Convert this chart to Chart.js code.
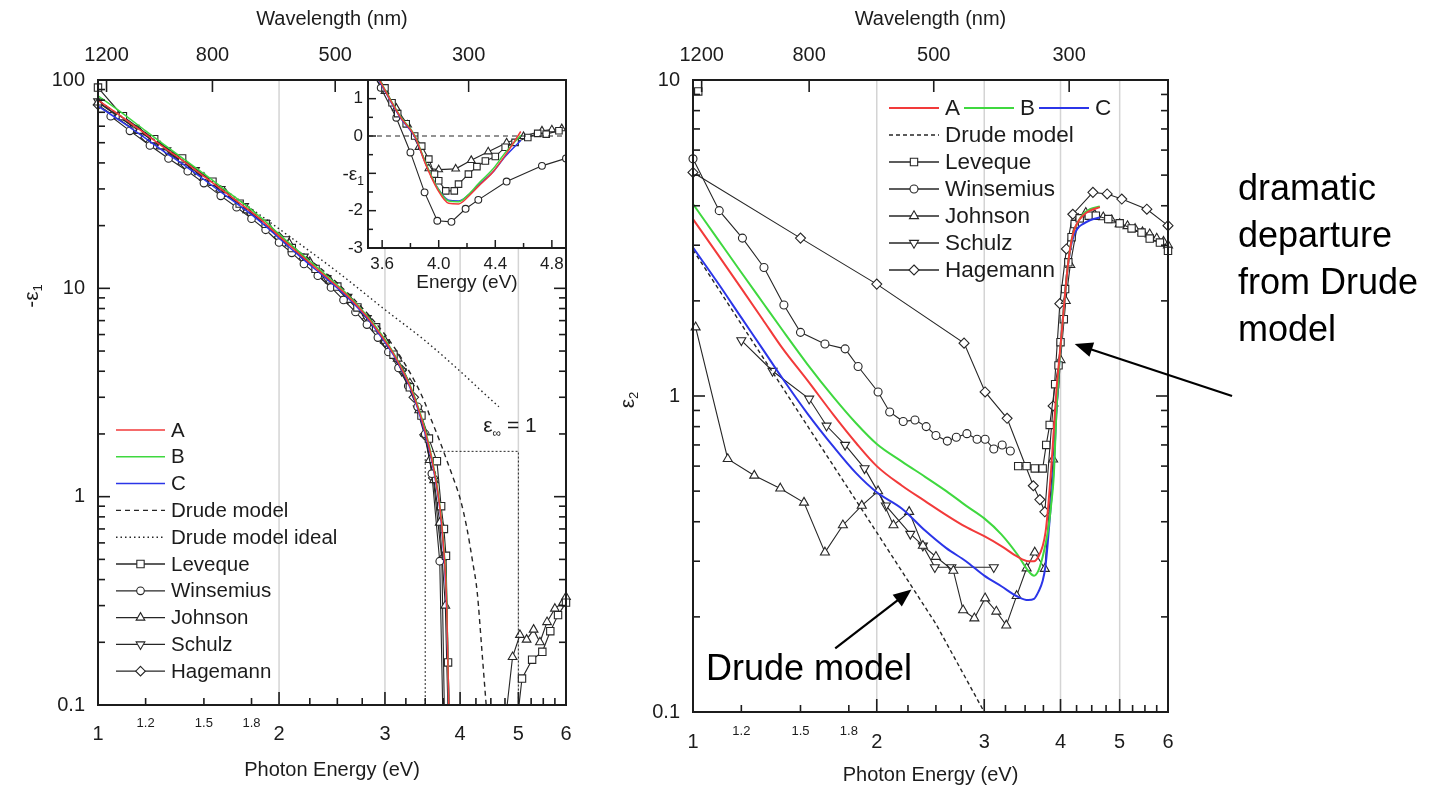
<!DOCTYPE html>
<html>
<head>
<meta charset="utf-8">
<title>Dielectric function of aluminium</title>
<script src="https://cdn.jsdelivr.net/npm/chart.js@4.4.1/dist/chart.umd.min.js"></script>
<style>
  html, body { margin: 0; padding: 0; background: #fff; }
  #page { position: relative; width: 1443px; height: 787px; overflow: hidden; background: #fff; }
  #page canvas { position: absolute; top: 0; }
</style>
</head>
<body>
<div id="page">
  <canvas id="eps1" width="600" height="787" style="left:0"></canvas>
  <canvas id="eps1-inset" width="600" height="787" style="left:0"></canvas>
  <canvas id="eps2" width="843" height="787" style="left:600px"></canvas>
</div>
<script>
(function () {
  'use strict';

  var FONT = '"Liberation Sans", Arial, Helvetica, sans-serif';
  var INK = '#1c1c1c', LINE = '#262626', GRID = '#d4d4d4';
  var RED = '#f23a3a', GREEN = '#3fd83f', BLUE = '#2b35e8';
  var HC = 1239.84; // eV*nm, converts wavelength to photon energy

  // ---- axis ticks ----
  var energyMajor = [1, 2, 3, 4, 5, 6];
  var energyMinor = [1.2, 1.5, 1.8, 2.25, 2.5, 2.75, 3.25, 3.5, 3.75, 4.25, 4.5, 4.75, 5.25, 5.5, 5.75];
  var energyMinorLabels = [1.2, 1.5, 1.8];
  var energyGrid = [2, 3, 4, 5];
  var wavelengthTicks = [1200, 800, 500, 300];
  var eps1Decades = [0.1, 1, 10, 100];
  var eps2Decades = [0.1, 1, 10];
  var insetEnergyTicks = [3.6, 4.0, 4.4, 4.8];
  var insetEnergyMinor = [3.8, 4.2, 4.6];
  var insetEpsTicks = [1, 0, -1, -2, -3];
  var insetEpsLabels = [1, 0, -2, -3]; // the -1 slot carries the axis title
  var insetEpsMinor = [0.5, -0.5, -1.5, -2.5];

  // ---- -eps1, main panel ----
  var fitE1 = [1.0, 1.1, 1.2, 1.3, 1.4, 1.5, 1.6, 1.7, 1.8, 1.9, 2.0, 2.2, 2.4, 2.6, 2.8, 3.0, 3.1, 3.2, 3.3, 3.4, 3.5, 3.6, 3.7, 3.75, 3.8, 3.83];
  var fitA1 = [80, 66, 55, 46.5, 40, 34.5, 30, 26.3, 23.2, 20.4, 17.8, 14.0, 11.3, 9.2, 7.3, 5.6, 4.85, 4.1, 3.4, 2.7, 2.05, 1.45, 0.9, 0.6, 0.3, 0.1];
  var fitB1 = [84, 69, 57, 48, 41, 35.5, 30.8, 27, 23.8, 20.9, 18.2, 14.3, 11.5, 9.35, 7.4, 5.7, 4.9, 4.15, 3.45, 2.75, 2.1, 1.48, 0.92, 0.62, 0.32, 0.1];
  var fitC1 = [75, 62.5, 52.5, 44.5, 38.5, 33.3, 29, 25.6, 22.6, 19.9, 17.4, 13.7, 11.1, 9.05, 7.2, 5.5, 4.78, 4.05, 3.35, 2.65, 2.0, 1.42, 0.88, 0.58, 0.28, 0.1];
  var drudeE1 = [1.0, 1.5, 2.0, 2.5, 3.0, 3.3, 3.5, 3.56, 3.7, 3.8, 3.9, 4.0, 4.1, 4.2, 4.27, 4.35, 4.42];
  var drude1 = [80, 34.5, 17.8, 10.6, 6.0, 3.95, 2.8, 2.45, 1.85, 1.5, 1.22, 0.98, 0.72, 0.48, 0.35, 0.18, 0.1];
  var idealE1 = [1.0, 1.25, 1.5, 1.75, 2.0, 2.5, 3.0, 3.5, 4.0, 4.3, 4.64];
  var ideal1 = [80, 51, 35, 25.5, 19.3, 12, 7.9, 5.6, 4.0, 3.3, 2.7];
  var boxE1 = [3.5, 3.5, 5.0, 5.0];
  var box1 = [0.1, 1.65, 1.65, 0.1];
  var levequeE1 = [1.0, 1.1, 1.24, 1.38, 1.55, 1.72, 1.9, 2.1, 2.3, 2.5, 2.7, 2.9, 3.1, 3.3, 3.45, 3.55, 3.66, 3.72, 3.76, 3.79, 3.82, 3.86, null, 4.98, 5.07, 5.27, 5.48, 5.65, 5.82, 6.0];
  var leveque1 = [92, 67, 52, 42, 32.5, 25.5, 20.4, 15.6, 12.4, 10.2, 8.1, 6.5, 4.8, 3.35, 2.45, 1.9, 1.48, 0.9, 0.7, 0.52, 0.16, 0.05, null, 0.085, 0.134, 0.165, 0.18, 0.226, 0.27, 0.31];
  var winsemiusE1 = [1.05, 1.13, 1.22, 1.31, 1.41, 1.5, 1.6, 1.7, 1.8, 1.9, 2.0, 2.1, 2.2, 2.32, 2.44, 2.56, 2.68, 2.8, 2.92, 3.04, 3.16, 3.28, 3.4, 3.5, 3.59, 3.7, 3.76];
  var winsemius1 = [67, 57, 48.5, 42, 36.5, 32, 27.8, 24.5, 21.6, 19.1, 16.6, 14.8, 13.1, 11.5, 10.1, 8.8, 7.7, 6.7, 5.8, 4.95, 4.15, 3.4, 2.7, 2.0, 1.29, 0.49, 0.05];
  var johnsonE1 = [1.0, 1.08, 1.17, 1.27, 1.38, 1.5, 1.63, 1.77, 1.92, 2.08, 2.25, 2.43, 2.62, 2.82, 3.0, 3.15, 3.3, 3.42, 3.5, 3.56, 3.62, 3.7, 3.78, 3.84, null, 4.77, 4.89, 5.03, 5.16, 5.3, 5.43, 5.58, 5.75, 5.93, 6.0];
  var johnson1 = [78, 67, 57, 48, 40.5, 34, 28.4, 23.7, 19.8, 16.4, 13.4, 10.9, 8.8, 7.0, 5.6, 4.6, 3.5, 2.6, 2.0, 1.5, 1.2, 0.75, 0.3, 0.05, null, 0.09, 0.17, 0.217, 0.206, 0.23, 0.2, 0.25, 0.29, 0.31, 0.33];
  var schulzE1 = [1.0, 1.15, 1.3, 1.45, 1.6, 1.75, 1.9, 2.05, 2.2, 2.4, 2.6, 2.8, 3.0, 3.2, 3.4];
  var schulz1 = [79, 59, 46, 37, 30, 24.8, 20.6, 17.2, 14.2, 11.2, 9.1, 7.2, 5.5, 4.0, 2.65];
  var hagemannE1 = [1.0, 1.2, 1.4, 1.6, 1.8, 2.0, 2.2, 2.4, 2.6, 2.8, 3.0, 3.2, 3.35, 3.49, 3.61, 3.73, 3.78];
  var hagemann1 = [76, 53, 39, 29.5, 22.8, 17.6, 13.9, 11.1, 8.9, 7.1, 5.5, 4.05, 3.0, 1.98, 1.23, 0.5, 0.05];

  // ---- -eps1, zoom around the zero crossing (linear) ----
  var insetFitE = [3.5, 3.58, 3.66, 3.73, 3.83, 3.91, 3.99, 4.07, 4.14, 4.21, 4.28, 4.38, 4.47, 4.58];
  var insetA = [2.0, 1.5, 0.95, 0.5, 0.0, -0.78, -1.42, -1.8, -1.82, -1.62, -1.35, -0.98, -0.52, 0.12];
  var insetB = [2.05, 1.52, 0.97, 0.52, 0.02, -0.74, -1.38, -1.74, -1.76, -1.57, -1.28, -0.9, -0.45, 0.02];
  var insetC = [1.95, 1.47, 0.93, 0.48, -0.02, -0.76, -1.38, -1.72, -1.74, -1.58, -1.32, -0.98, -0.55, -0.12];
  var insetZeroE = [3.5, 4.9];
  var insetZero = [0, 0];
  var insetLevequeE = [3.55, 3.62, 3.67, 3.71, 3.77, 3.83, 3.88, 3.93, 3.97, 4.0, 4.05, 4.11, 4.14, 4.21, 4.27, 4.33, 4.4, 4.47, 4.54, 4.63, 4.7, 4.76, 4.85];
  var insetLeveque = [1.7, 1.29, 0.89, 0.6, 0.33, 0.0, -0.27, -0.62, -1.02, -1.2, -1.47, -1.47, -1.29, -1.02, -0.82, -0.67, -0.55, -0.3, -0.17, -0.04, 0.07, 0.05, 0.14];
  var insetWinsemiusE = [3.53, 3.59, 3.7, 3.8, 3.9, 3.99, 4.09, 4.19, 4.28, 4.48, 4.73, 4.9];
  var insetWinsemius = [1.75, 1.29, 0.49, -0.44, -1.51, -2.27, -2.3, -1.95, -1.71, -1.22, -0.8, -0.6];
  var insetJohnsonE = [3.55, 3.62, 3.7, 3.78, 3.86, 3.93, 4.0, 4.12, 4.23, 4.35, 4.48, 4.6, 4.73, 4.8, 4.87];
  var insetJohnson = [1.55, 1.2, 0.75, 0.3, -0.3, -0.87, -0.9, -0.88, -0.65, -0.42, -0.18, -0.01, 0.14, 0.17, 0.2];

  // ---- eps2 ----
  var fitE2 = [1.0, 1.1, 1.2, 1.3, 1.4, 1.54, 1.7, 1.85, 2.0, 2.2, 2.4, 2.6, 2.8, 3.0, 3.2, 3.4, 3.54, 3.62, 3.68, 3.74, 3.78, 3.82, 3.86, 3.9, 3.94, 3.98, 4.02, 4.06, 4.1, 4.15, 4.2, 4.27, 4.35, 4.47, 4.64];
  var fitA2 = [3.63, 2.79, 2.19, 1.75, 1.42, 1.12, 0.87, 0.71, 0.60, 0.52, 0.465, 0.42, 0.385, 0.36, 0.335, 0.31, 0.30, 0.30, 0.31, 0.335, 0.37, 0.45, 0.58, 0.78, 1.05, 1.3, 1.6, 2.0, 2.45, 2.95, 3.3, 3.55, 3.72, 3.86, 3.96];
  var fitB2 = [4.05, 3.12, 2.46, 1.98, 1.62, 1.26, 0.99, 0.82, 0.705, 0.62, 0.555, 0.50, 0.45, 0.41, 0.365, 0.315, 0.28, 0.27, 0.28, 0.31, 0.34, 0.38, 0.45, 0.56, 0.9, 1.25, 1.6, 2.0, 2.45, 2.95, 3.3, 3.55, 3.75, 3.9, 3.98];
  var fitC2 = [2.95, 2.27, 1.77, 1.41, 1.14, 0.88, 0.69, 0.57, 0.496, 0.44, 0.375, 0.33, 0.30, 0.27, 0.25, 0.232, 0.226, 0.228, 0.24, 0.26, 0.29, 0.36, 0.46, 0.6, 0.9, 1.25, 1.6, 2.0, 2.45, 2.9, 3.2, 3.4, 3.5, 3.6, 3.67];
  var drudeE2 = [1.0, 1.5, 2.0, 2.5, 3.0];
  var drude2 = [2.9, 0.87, 0.37, 0.19, 0.1];
  var levequeE2 = [1.02, null, 3.41, 3.52, 3.63, 3.74, 3.79, 3.84, 3.92, 3.97, 4.0, 4.05, 4.07, 4.12, 4.17, 4.22, 4.3, 4.45, 4.57, 4.79, 5.0, 5.23, 5.43, 5.6, 5.82, 6.0];
  var leveque2 = [9.2, null, 0.6, 0.6, 0.59, 0.59, 0.70, 0.81, 1.09, 1.25, 1.48, 1.75, 2.18, 2.65, 3.18, 3.5, 3.65, 3.72, 3.72, 3.63, 3.52, 3.39, 3.29, 3.15, 3.06, 2.88];
  var winsemiusE2 = [1.0, 1.104, 1.205, 1.307, 1.409, 1.5, 1.645, 1.775, 1.864, 2.01, 2.1, 2.21, 2.31, 2.41, 2.5, 2.61, 2.7, 2.81, 2.92, 3.01, 3.11, 3.21, 3.31];
  var winsemius2 = [5.63, 3.86, 3.16, 2.55, 1.94, 1.59, 1.46, 1.41, 1.24, 1.03, 0.89, 0.83, 0.84, 0.80, 0.75, 0.72, 0.74, 0.76, 0.73, 0.73, 0.68, 0.70, 0.67];
  var johnsonE2 = [1.01, 1.14, 1.26, 1.39, 1.52, 1.645, 1.76, 1.89, 2.01, 2.13, 2.26, 2.38, 2.5, 2.67, 2.77, 2.89, 3.01, 3.14, 3.26, 3.39, 3.52, 3.63, 3.77, 3.89, 4.0, 4.08, 4.15, 4.28, 4.4, 4.55, 4.7, 4.85, 5.0, 5.15, 5.3, 5.45, 5.6, 5.75, 5.9, 6.0];
  var johnson2 = [1.65, 0.632, 0.56, 0.51, 0.46, 0.32, 0.39, 0.45, 0.50, 0.39, 0.43, 0.336, 0.31, 0.28, 0.21, 0.198, 0.229, 0.208, 0.188, 0.233, 0.285, 0.32, 0.284, 0.63, 1.3, 2.0, 2.6, 3.63, 3.8, 3.75, 3.68, 3.6, 3.5, 3.45, 3.38, 3.3, 3.25, 3.15, 3.08, 3.0];
  var schulzE2 = [1.2, 1.35, 1.55, 1.655, 1.775, 1.91, 2.07, 2.27, 2.38, 2.49, 2.65, 3.11];
  var schulz2 = [1.5, 1.2, 0.98, 0.805, 0.70, 0.59, 0.45, 0.366, 0.336, 0.287, 0.287, 0.287];
  var hagemannE2 = [1.0, 1.5, 2.0, 2.78, 3.01, 3.27, 3.61, 3.7, 3.77, 3.89, 3.99, 4.09, 4.19, 4.52, 4.77, 5.04, 5.54, 6.0];
  var hagemann2 = [5.1, 3.16, 2.26, 1.47, 1.03, 0.85, 0.52, 0.47, 0.43, 0.93, 1.96, 2.92, 3.76, 4.41, 4.36, 4.2, 3.9, 3.46];

  // ---- annotations (data coordinates of the arrows) ----
  var departureArrow = { from: [7.64, 1.0], to: [4.22, 1.46] };
  var drudeArrow = { from: [1.71, 0.159], to: [2.28, 0.244] };
  var departureText = ['dramatic', 'departure', 'from Drude', 'model'];

  var MAIN_CLIP = { left: 6, right: 6, top: 0, bottom: 0 };
  var INSET_CLIP = { left: 0, right: 0, top: 0, bottom: 0 };

  function pts(xs, ys) {
    return xs.map(function (x, i) { return { x: x, y: ys[i] }; });
  }
  function fit(label, xs, ys, color, width, clip) {
    return { label: label, data: pts(xs, ys), showLine: true, borderColor: color, borderWidth: width,
      cubicInterpolationMode: 'monotone', pointRadius: 0, clip: clip };
  }
  function guide(label, xs, ys, dash, width, clip, smooth) {
    return { label: label, data: pts(xs, ys), showLine: true, borderColor: LINE, borderWidth: width,
      borderDash: dash, cubicInterpolationMode: smooth ? 'monotone' : 'default', pointRadius: 0, clip: clip };
  }
  function measured(label, xs, ys, style, r, rot, clip) {
    return { label: label, data: pts(xs, ys), showLine: true, borderColor: LINE, borderWidth: 1.1,
      pointStyle: style, pointRadius: r, pointRotation: rot || 0, pointBackgroundColor: '#fff',
      pointBorderColor: LINE, pointBorderWidth: 1.1, clip: clip };
  }

  function seg(ctx, x0, y0, x1, y1) {
    ctx.beginPath(); ctx.moveTo(x0, y0); ctx.lineTo(x1, y1); ctx.stroke();
  }
  function label(ctx, str, x, y, size, align, baseline, color) {
    ctx.font = size + 'px ' + FONT;
    ctx.fillStyle = color || INK;
    ctx.textAlign = align || 'center';
    ctx.textBaseline = baseline || 'middle';
    ctx.fillText(str, x, y);
  }
  // text with a lowered subscript; x is the anchor for the whole string
  function subLabel(ctx, main, sub, x, y, size, subSize, align, tail) {
    ctx.font = size + 'px ' + FONT;
    var w1 = ctx.measureText(main).width, w3 = tail ? ctx.measureText(tail).width : 0;
    ctx.font = subSize + 'px ' + FONT;
    var w2 = ctx.measureText(sub).width;
    var total = w1 + w2 + w3, x0 = x;
    if (align === 'center') x0 = x - total / 2;
    else if (align === 'right') x0 = x - total;
    label(ctx, main, x0, y, size, 'left');
    label(ctx, sub, x0 + w1, y + size * 0.32, subSize, 'left');
    if (tail) label(ctx, tail, x0 + w1 + w2, y, size, 'left');
  }

  function marker(ctx, style, x, y, r, rot) {
    ctx.save();
    ctx.translate(x, y);
    ctx.rotate((rot || 0) * Math.PI / 180);
    ctx.beginPath();
    if (style === 'circle') {
      ctx.arc(0, 0, r, 0, Math.PI * 2);
    } else if (style === 'rect') {
      var s = r * Math.SQRT1_2;
      ctx.rect(-s, -s, 2 * s, 2 * s);
    } else if (style === 'rectRot') {
      ctx.moveTo(0, -r); ctx.lineTo(r, 0); ctx.lineTo(0, r); ctx.lineTo(-r, 0); ctx.closePath();
    } else if (style === 'triangle') {
      for (var k = 0; k < 3; k++) {
        var a = k * 2 * Math.PI / 3;
        if (k) ctx.lineTo(Math.sin(a) * r, -Math.cos(a) * r); else ctx.moveTo(Math.sin(a) * r, -Math.cos(a) * r);
      }
      ctx.closePath();
    }
    ctx.fillStyle = '#fff'; ctx.fill();
    ctx.lineWidth = 1.1; ctx.strokeStyle = LINE; ctx.stroke();
    ctx.restore();
  }

  function legendSample(ctx, ds, x0, x1, y) {
    ctx.save();
    ctx.strokeStyle = ds.borderColor;
    ctx.lineWidth = Math.max(ds.borderWidth, 1.3);
    ctx.setLineDash(ds.borderDash || []);
    seg(ctx, x0, y, x1, y);
    ctx.setLineDash([]);
    if (ds.pointRadius) marker(ctx, ds.pointStyle, (x0 + x1) / 2, y, ds.pointRadius, ds.pointRotation);
    ctx.restore();
  }

  function drawLegend(chart, cfg) {
    var ctx = chart.ctx, byLabel = {};
    chart.data.datasets.forEach(function (ds) { byLabel[ds.label] = ds; });
    cfg.rows.forEach(function (row, i) {
      var y = cfg.y + i * cfg.dy;
      row.forEach(function (name, j) {
        var x = cfg.x + j * cfg.colStep;
        legendSample(ctx, byLabel[name], x, x + cfg.sample, y);
        label(ctx, name, x + cfg.sample + 6, y + 1, cfg.size, 'left');
      });
    });
  }

  function arrow(ctx, from, to) {
    var ang = Math.atan2(to[1] - from[1], to[0] - from[0]);
    var L = 18, W = 7.5, c = Math.cos(ang), s = Math.sin(ang);
    ctx.save();
    ctx.strokeStyle = '#000'; ctx.fillStyle = '#000'; ctx.lineWidth = 2.2;
    seg(ctx, from[0], from[1], to[0] - c * L * 0.8, to[1] - s * L * 0.8);
    ctx.beginPath();
    ctx.moveTo(to[0], to[1]);
    ctx.lineTo(to[0] - c * L - s * W, to[1] - s * L + c * W);
    ctx.lineTo(to[0] - c * L + s * W, to[1] - s * L - c * W);
    ctx.closePath(); ctx.fill();
    ctx.restore();
  }

  function logMinors(decades) {
    var out = [];
    for (var i = 0; i < decades.length - 1; i++) {
      for (var k = 2; k <= 9; k++) out.push(decades[i] * k);
    }
    return out;
  }

  // frame, ticks, labels and titles shared by both energy panels
  function energyAxes(opts) {
    return {
      id: 'energyAxes',
      beforeDatasetsDraw: function (chart) {
        var ctx = chart.ctx, a = chart.chartArea, x = chart.scales.x;
        ctx.save();
        ctx.strokeStyle = GRID; ctx.lineWidth = 1.5;
        energyGrid.forEach(function (v) {
          var px = x.getPixelForValue(v);
          seg(ctx, px, a.top, px, a.bottom);
        });
        ctx.restore();
      },
      afterDatasetsDraw: function (chart) {
        var ctx = chart.ctx, a = chart.chartArea, x = chart.scales.x, y = chart.scales.y;
        ctx.save();
        ctx.strokeStyle = INK; ctx.lineWidth = 1.6;
        energyMajor.forEach(function (v) { var p = x.getPixelForValue(v); seg(ctx, p, a.bottom, p, a.bottom - 13); });
        energyMinor.forEach(function (v) { var p = x.getPixelForValue(v); seg(ctx, p, a.bottom, p, a.bottom - 7); });
        wavelengthTicks.forEach(function (nm) { var p = x.getPixelForValue(HC / nm); seg(ctx, p, a.top, p, a.top + 12); });
        opts.decades.forEach(function (v) {
          var p = y.getPixelForValue(v);
          seg(ctx, a.left, p, a.left + 12, p); seg(ctx, a.right, p, a.right - 12, p);
        });
        logMinors(opts.decades).forEach(function (v) {
          var p = y.getPixelForValue(v);
          seg(ctx, a.left, p, a.left + 7, p); seg(ctx, a.right, p, a.right - 7, p);
        });
        ctx.lineWidth = 2;
        ctx.strokeRect(a.left, a.top, a.right - a.left, a.bottom - a.top);

        energyMajor.forEach(function (v) { label(ctx, String(v), x.getPixelForValue(v), a.bottom + opts.tickGap, 20); });
        energyMinorLabels.forEach(function (v) { label(ctx, v.toFixed(1), x.getPixelForValue(v), a.bottom + opts.tickGap - 11, 13); });
        wavelengthTicks.forEach(function (nm) { label(ctx, String(nm), x.getPixelForValue(HC / nm), a.top - 25, 20); });
        opts.decades.forEach(function (v) { label(ctx, String(v), a.left - 13, y.getPixelForValue(v), 20, 'right'); });

        var cx = (a.left + a.right) / 2;
        label(ctx, 'Wavelength (nm)', cx, a.top - 61, 20);
        label(ctx, 'Photon Energy (eV)', cx, a.bottom + opts.titleGap, 20);

        ctx.save();
        ctx.translate(opts.yTitleX, opts.yTitleY);
        ctx.rotate(-Math.PI / 2);
        subLabel(ctx, opts.yTitle[0], opts.yTitle[1], 0, 0, 21, 13, 'center');
        ctx.restore();

        drawLegend(chart, opts.legend);
        if (opts.extra) opts.extra(chart);
        ctx.restore();
      }
    };
  }

  function chartOptions(xType, xr, yType, yr, padding) {
    return {
      responsive: false, animation: false, events: [],
      layout: { padding: padding },
      plugins: { legend: { display: false }, tooltip: { enabled: false } },
      scales: {
        x: { type: xType, min: xr[0], max: xr[1], display: false },
        y: { type: yType, min: yr[0], max: yr[1], display: false }
      }
    };
  }

  // ---------- left: -eps1 ----------
  var leftChart = new Chart(document.getElementById('eps1'), {
    type: 'scatter',
    data: { datasets: [
      fit('A', fitE1, fitA1, RED, 1.5, MAIN_CLIP),
      fit('B', fitE1, fitB1, GREEN, 1.5, MAIN_CLIP),
      fit('C', fitE1, fitC1, BLUE, 1.5, MAIN_CLIP),
      guide('Drude model', drudeE1, drude1, [5, 4], 1.4, MAIN_CLIP, true),
      guide('Drude model ideal', idealE1, ideal1, [1.5, 3], 1.4, MAIN_CLIP, true),
      guide('box', boxE1, box1, [2, 2], 1, MAIN_CLIP, false),
      measured('Leveque', levequeE1, leveque1, 'rect', 5.2, 0, MAIN_CLIP),
      measured('Winsemius', winsemiusE1, winsemius1, 'circle', 3.8, 0, MAIN_CLIP),
      measured('Johnson', johnsonE1, johnson1, 'triangle', 5, 0, MAIN_CLIP),
      measured('Schulz', schulzE1, schulz1, 'triangle', 5, 180, MAIN_CLIP),
      measured('Hagemann', hagemannE1, hagemann1, 'rectRot', 4.8, 0, MAIN_CLIP)
    ] },
    options: chartOptions('logarithmic', [1, 6], 'logarithmic', [0.1, 100], { left: 98, right: 34, top: 80, bottom: 82 }),
    plugins: [energyAxes({
      decades: eps1Decades, tickGap: 29, titleGap: 65,
      yTitle: ['-\u03b5', '1'], yTitleX: 32, yTitleY: 296,
      legend: { x: 116, y: 430, dy: 26.8, sample: 49, colStep: 0, size: 20.5,
        rows: [['A'], ['B'], ['C'], ['Drude model'], ['Drude model ideal'], ['Leveque'], ['Winsemius'], ['Johnson'], ['Schulz'], ['Hagemann']] },
      extra: function (chart) {
        var x = chart.scales.x, y = chart.scales.y;
        subLabel(chart.ctx, '\u03b5', '\u221e', x.getPixelForValue(4.37), y.getPixelForValue(2.17), 21, 12, 'left', ' = 1');
      }
    })]
  });

  // ---------- inset: -eps1 near the crossing ----------
  new Chart(document.getElementById('eps1-inset'), {
    type: 'scatter',
    data: { datasets: [
      fit('A', insetFitE, insetA, RED, 1.5, INSET_CLIP),
      fit('B', insetFitE, insetB, GREEN, 1.5, INSET_CLIP),
      fit('C', insetFitE, insetC, BLUE, 1.5, INSET_CLIP),
      guide('zero', insetZeroE, insetZero, [5, 4], 1.2, INSET_CLIP, false),
      measured('Leveque', insetLevequeE, insetLeveque, 'rect', 4.6, 0, INSET_CLIP),
      measured('Winsemius', insetWinsemiusE, insetWinsemius, 'circle', 3.4, 0, INSET_CLIP),
      measured('Johnson', insetJohnsonE, insetJohnson, 'triangle', 4.4, 0, INSET_CLIP)
    ] },
    options: chartOptions('linear', [3.5, 4.9], 'linear', [-3, 1.5], { left: 368, right: 34, top: 80, bottom: 539 }),
    plugins: [{
      id: 'insetAxes',
      beforeDatasetsDraw: function (chart) {
        var ctx = chart.ctx, a = chart.chartArea;
        ctx.save(); ctx.fillStyle = '#fff';
        ctx.fillRect(a.left, a.top, a.right - a.left, a.bottom - a.top);
        ctx.restore();
      },
      afterDatasetsDraw: function (chart) {
        var ctx = chart.ctx, a = chart.chartArea, x = chart.scales.x, y = chart.scales.y;
        ctx.save();
        ctx.strokeStyle = INK; ctx.lineWidth = 1.5;
        insetEnergyTicks.forEach(function (v) { var p = x.getPixelForValue(v); seg(ctx, p, a.bottom, p, a.bottom - 8); });
        insetEnergyMinor.forEach(function (v) { var p = x.getPixelForValue(v); seg(ctx, p, a.bottom, p, a.bottom - 5); });
        insetEpsTicks.forEach(function (v) { var p = y.getPixelForValue(v); seg(ctx, a.left, p, a.left + 8, p); });
        insetEpsMinor.forEach(function (v) { var p = y.getPixelForValue(v); seg(ctx, a.left, p, a.left + 5, p); });
        // wavelength tick of the main panel that falls on the inset
        var lx = leftChart.scales.x;
        wavelengthTicks.forEach(function (nm) {
          var p = lx.getPixelForValue(HC / nm);
          if (p > a.left) seg(ctx, p, a.top, p, a.top + 12);
        });
        ctx.lineWidth = 2;
        ctx.strokeRect(a.left, a.top, a.right - a.left, a.bottom - a.top);

        insetEnergyTicks.forEach(function (v) { label(ctx, v.toFixed(1), x.getPixelForValue(v), a.bottom + 16, 17); });
        insetEpsLabels.forEach(function (v) { label(ctx, String(v), a.left - 5, y.getPixelForValue(v), 17, 'right'); });
        label(ctx, 'Energy (eV)', (a.left + a.right) / 2, a.bottom + 35, 19);
        subLabel(ctx, '-\u03b5', '1', a.left - 4, y.getPixelForValue(-1.05), 19, 12, 'right');
        ctx.restore();
      }
    }]
  });

  // ---------- right: eps2 ----------
  new Chart(document.getElementById('eps2'), {
    type: 'scatter',
    data: { datasets: [
      fit('A', fitE2, fitA2, RED, 2, MAIN_CLIP),
      fit('B', fitE2, fitB2, GREEN, 2, MAIN_CLIP),
      fit('C', fitE2, fitC2, BLUE, 2, MAIN_CLIP),
      guide('Drude model', drudeE2, drude2, [4, 3], 1.4, MAIN_CLIP, false),
      measured('Leveque', levequeE2, leveque2, 'rect', 5.2, 0, MAIN_CLIP),
      measured('Winsemius', winsemiusE2, winsemius2, 'circle', 4, 0, MAIN_CLIP),
      measured('Johnson', johnsonE2, johnson2, 'triangle', 5.2, 0, MAIN_CLIP),
      measured('Schulz', schulzE2, schulz2, 'triangle', 5.2, 180, MAIN_CLIP),
      measured('Hagemann', hagemannE2, hagemann2, 'rectRot', 5, 0, MAIN_CLIP)
    ] },
    options: chartOptions('logarithmic', [1, 6], 'logarithmic', [0.1, 10], { left: 93, right: 275, top: 80, bottom: 75 }),
    plugins: [energyAxes({
      decades: eps2Decades, tickGap: 30, titleGap: 63,
      yTitle: ['\u03b5', '2'], yTitleX: 28, yTitleY: 400,
      legend: { x: 289, y: 108, dy: 27, sample: 50, colStep: 75, size: 22.5,
        rows: [['A', 'B', 'C'], ['Drude model'], ['Leveque'], ['Winsemius'], ['Johnson'], ['Schulz'], ['Hagemann']] },
      extra: function (chart) {
        var ctx = chart.ctx, x = chart.scales.x, y = chart.scales.y;
        function px(p) { return [x.getPixelForValue(p[0]), y.getPixelForValue(p[1])]; }
        departureText.forEach(function (t, i) { label(ctx, t, 638, 200 + i * 47, 36, 'left', 'alphabetic', '#000'); });
        arrow(ctx, px(departureArrow.from), px(departureArrow.to));
        label(ctx, 'Drude model', 106, 680, 36, 'left', 'alphabetic', '#000');
        arrow(ctx, px(drudeArrow.from), px(drudeArrow.to));
      }
    })]
  });
})();
</script>
</body>
</html>
